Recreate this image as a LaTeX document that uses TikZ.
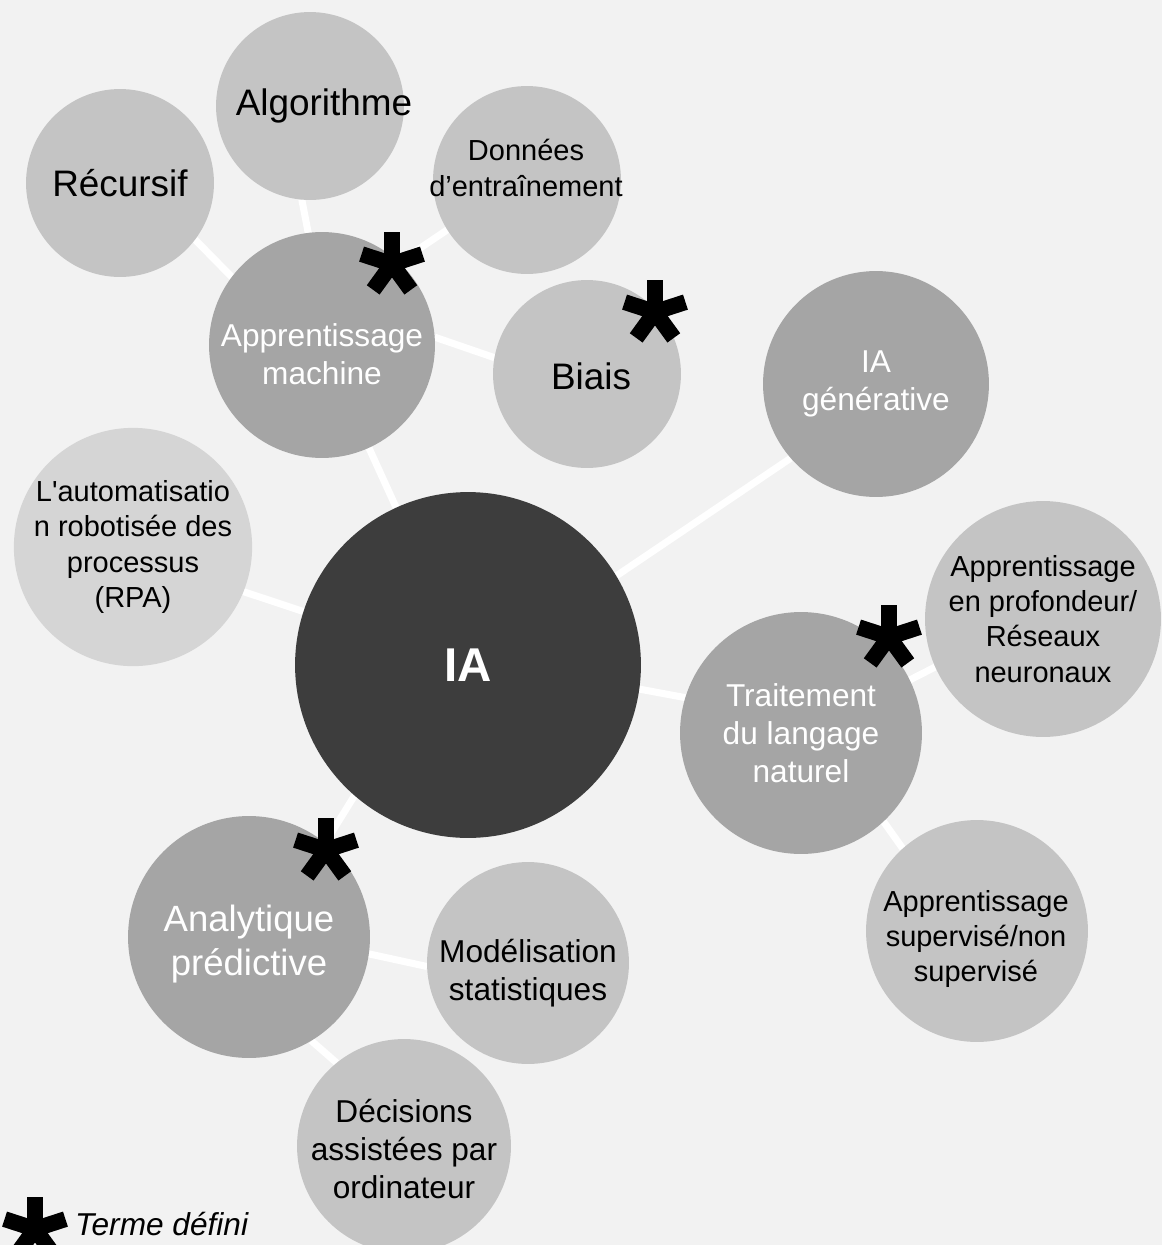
\documentclass[tikz,border=0pt]{standalone}
\usepackage{xcolor}
\usepackage{fontspec}
\setmainfont{Liberation Sans}[Ligatures=TeXOff]
\usetikzlibrary{positioning}

\definecolor{fond}{HTML}{F2F2F2}
\definecolor{sombre}{HTML}{3D3D3D}
\definecolor{moyen}{HTML}{A5A5A5}
\definecolor{clair}{HTML}{C4C4C4}
\definecolor{pale}{HTML}{D5D5D5}

\pgfdeclarelayer{arriere}
\pgfdeclarelayer{liens}
\pgfsetlayers{arriere,liens,main}

\tikzset{
  bulle/.style={circle, inner sep=0pt, outer sep=0pt, align=center, minimum size=#1*0.04cm},
  fonce/.style={fill=moyen, text=white},
  leger/.style={fill=clair, text=black},
  texte/.style={inner sep=0pt, align=center},
  lien/.style={white, line width=4pt},
  grand/.style={font=\fontsize{21}{25}\selectfont},
  moyenne/.style={font=\fontsize{18}{21.6}\selectfont},
  petit/.style={font=\fontsize{16.5}{20}\selectfont},
  pics/etoile/.style={code={
    \foreach \a in {54,126,198,270,342}
      \draw[black, line width=9pt] (0,0) -- (\a:32);
  }}
}

\begin{document}
\begin{tikzpicture}[x=0.02cm, y=-0.02cm]
\begin{pgfonlayer}{arriere}
  \fill[fond] (0,0) rectangle (1162,1245);
\end{pgfonlayer}
\useasboundingbox (0,0) rectangle (1162,1245);

% centre
\node[bulle=173, fill=sombre, text=white, font=\fontsize{27}{32}\selectfont\bfseries] (ia) at (468,665) {IA};

% branches
\node[bulle=113, fonce] (am) at (322,345) {};
\node[texte, moyenne, text=white] (amt) at (322,354) {Apprentissage\\machine};
\node[bulle=113, fonce, moyenne] (gen) at (876,384) {IA\\générative};
\node[bulle=121, fonce, moyenne] (nlp) at (801,733) {Traitement\\du langage\\naturel};
\node[bulle=121, fonce] (ana) at (249,937) {};
\node[texte, text=white, font=\fontsize{20.8}{25.5}\selectfont] (anat) at (249,944) {Analytique\\prédictive};
\node[bulle=119, fill=pale, petit] (auto) at (133,547) {L'automatisatio\\n robotisée des\\processus\\(RPA)};

% feuilles
\node[bulle=94, leger, grand] (rec) at (120,183) {Récursif};
\node[bulle=94, leger] (alg) at (310,106) {};
\node[texte, grand] (algt) at (324,106) {Algorithme};
\node[bulle=94, leger] (dat) at (527,180) {};
\node[texte, petit] (datt) at (526,168) {Données\\d’entraînement};
\node[bulle=94, leger] (bia) at (587,374) {};
\node[texte, grand] (biat) at (591,376) {Biais};
\node[bulle=118, leger, petit] (dep) at (1043,619) {Apprentissage\\en profondeur/\\Réseaux\\neuronaux};
\node[bulle=111, leger] (sup) at (977,931) {};
\node[texte, petit] (supt) at (976,939) {Apprentissage\\supervisé/non\\supervisé};
\node[bulle=101, leger] (mod) at (528,963) {};
\node[texte, moyenne] (modt) at (528,973) {Modélisation\\statistiques};
\node[bulle=107, leger, moyenne] (dec) at (404,1146) {};
\node[texte, moyenne] (dect) at (404,1149) {Décisions\\assistées par\\ordinateur};

\begin{pgfonlayer}{liens}
  \draw[lien] (ia) -- (am);
  \draw[lien] (ia.31) -- (gen.221);
  \draw[lien] (auto.-22) -- (ia.162);
  \draw[lien] (ia.-8) -- (nlp.163);
  \draw[lien] (ia.229) -- (ana.51);
  \draw[lien] (rec.-37) -- (am.143);
  \draw[lien] (alg.-95) -- (am.97);
  \draw[lien] (am.47) -- (dat.212);
  \draw[lien] (am.4) -- (bia.170);
  \draw[lien] (nlp.26) -- (dep.204);
  \draw[lien] (nlp.-47) -- (sup.132);
  \draw[lien] (ana.-8) -- (mod.182);
  \draw[lien] (ana.-59) -- (dec.129);
\end{pgfonlayer}

% termes definis
\pic at (392,264) {etoile};
\pic at (655,312) {etoile};
\pic at (889,637) {etoile};
\pic at (326,850) {etoile};
\pic at (35,1229) {etoile};
\node[anchor=base west, font=\fontsize{18}{21}\selectfont\itshape] (legende) at (69,1235) {Terme défini};
\end{tikzpicture}
\end{document}
